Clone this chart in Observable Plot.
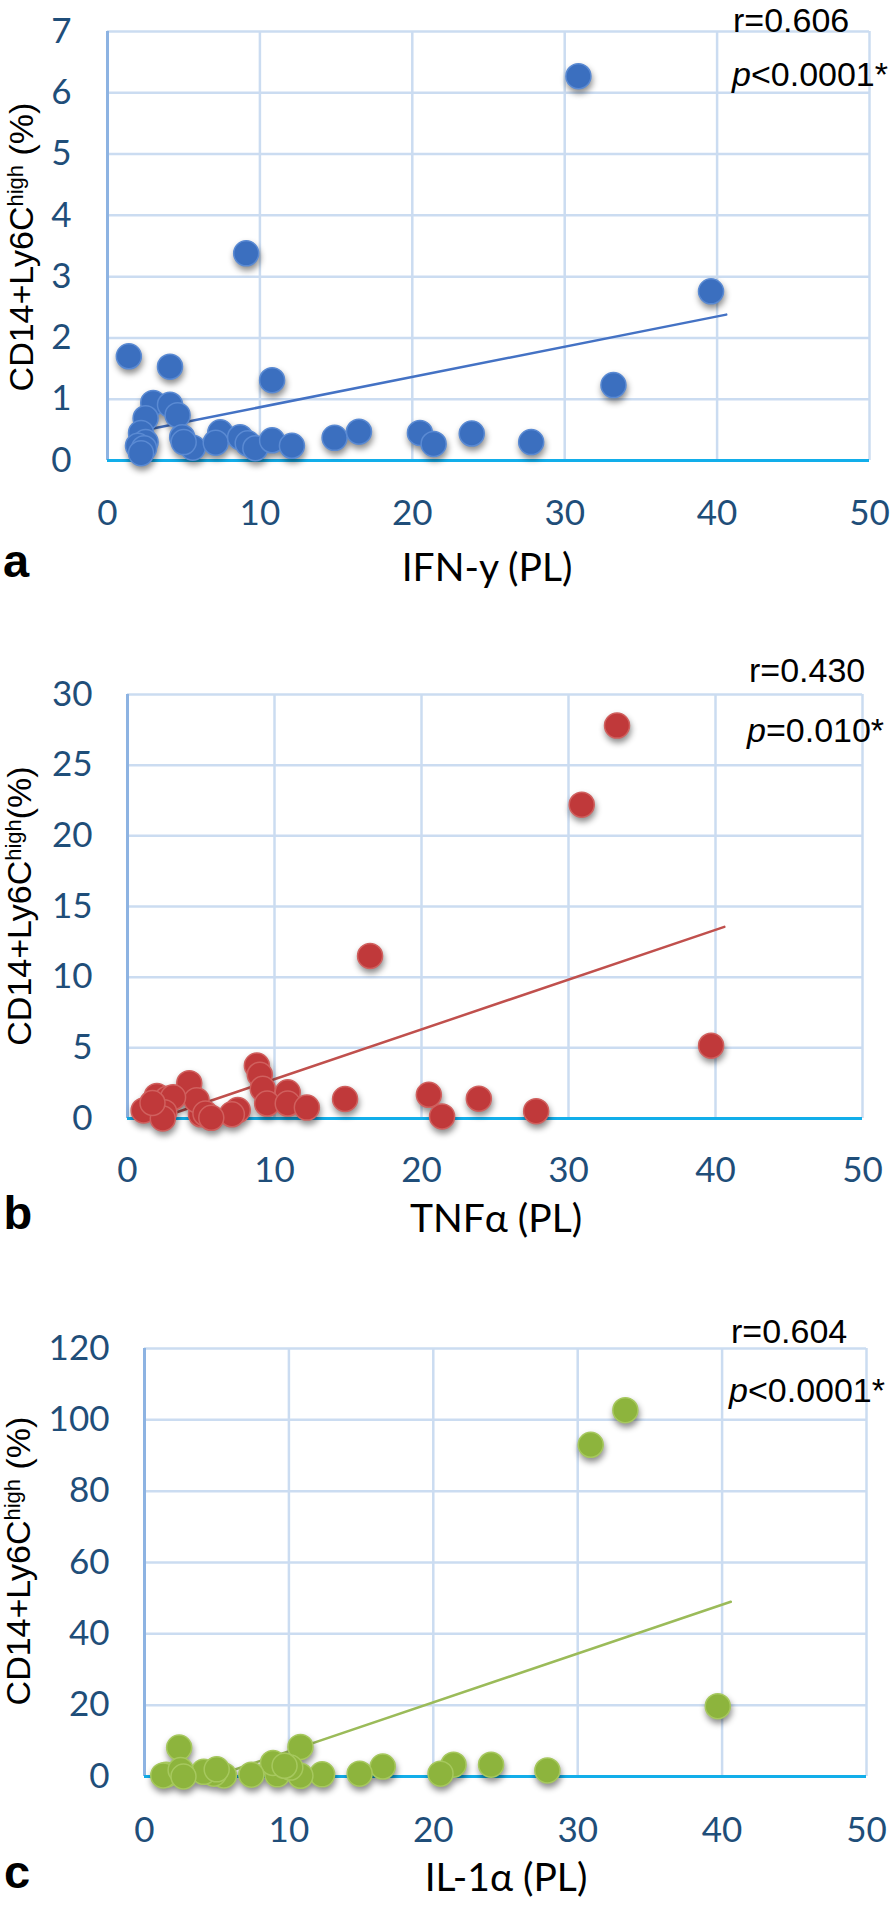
<!DOCTYPE html>
<html>
<head>
<meta charset="utf-8">
<script src="https://cdn.jsdelivr.net/npm/d3@7"></script>
<script src="https://cdn.jsdelivr.net/npm/@observablehq/plot@0.6"></script>
<style>
html, body { margin: 0; padding: 0; background: #fff; overflow: hidden; }
#root { position: relative; width: 894px; height: 1905px; overflow: hidden; background: #fff; }
#root > svg { position: absolute; left: 0; }
</style>
</head>
<body>
<div id="root"></div>
<script>
// ---------- data ----------
const xTicks = [0, 10, 20, 30, 40, 50];
const yTicksA = [0, 1, 2, 3, 4, 5, 6, 7];
const yTicksB = [0, 5, 10, 15, 20, 25, 30];
const yTicksC = [0, 20, 40, 60, 80, 100, 120];

const panelLetters = ["a", "b", "c"];
const xTitles = ["IFN-y (PL)", "TNFα (PL)", "IL-1α (PL)"];
const yTitleTails = [" (%)", "(%)", " (%)"];
const rTexts = ["r=0.606", "r=0.430", "r=0.604"];
const pTexts = ["<0.0001*", "=0.010*", "<0.0001*"];

// panel a: IFN-y vs CD14+Ly6Chigh
const ifnX = [30.9, 9.1, 39.6, 1.4, 4.1, 10.8, 33.2, 3.0, 4.1, 4.6, 2.5, 2.2, 2.5, 2.0, 2.4, 4.9, 5.6, 7.4, 7.1, 8.7, 9.2, 9.7, 10.8, 12.1, 14.9, 16.5, 20.5, 21.4, 23.9, 27.8, 2.2, 5.0];
const monoA = [6.27, 3.38, 2.76, 1.70, 1.53, 1.31, 1.23, 0.94, 0.91, 0.74, 0.69, 0.45, 0.30, 0.24, 0.20, 0.38, 0.21, 0.46, 0.29, 0.38, 0.28, 0.20, 0.33, 0.24, 0.37, 0.47, 0.45, 0.27, 0.44, 0.30, 0.12, 0.30];
const trendAX = [1.5, 40.6];
const trendAY = [0.45, 2.38];

// panel b: TNFa vs CD14+Ly6Chigh
const tnfX = [33.3, 30.9, 16.5, 39.7, 8.8, 9.0, 9.2, 4.2, 10.9, 9.5, 10.9, 14.8, 20.5, 23.9, 27.8, 21.4, 12.2, 7.5, 7.1, 5.0, 4.7, 5.3, 2.0, 2.7, 3.1, 1.1, 2.5, 2.4, 1.7, 5.7];
const monoB = [27.8, 22.2, 11.5, 5.15, 3.75, 3.1, 2.1, 2.5, 1.85, 1.06, 1.06, 1.38, 1.68, 1.4, 0.52, 0.15, 0.77, 0.6, 0.3, 0.3, 1.3, 0.35, 1.6, 1.4, 1.5, 0.57, 0.45, 0.0, 1.1, 0.05];
const trendBX = [2.1, 40.6];
const trendBY = [0.0, 13.56];

// panel c: IL-1a vs CD14+Ly6Chigh
const il1X = [33.3, 30.9, 39.7, 2.4, 10.8, 27.9, 24.0, 21.4, 20.5, 16.5, 14.9, 12.3, 10.8, 9.2, 8.9, 10.1, 7.4, 5.5, 4.8, 4.1, 2.6, 1.5, 1.3, 2.5, 2.7, 5.0, 9.7];
const monoC = [102.7, 93.0, 19.7, 8.1, 8.3, 1.7, 3.3, 3.3, 0.8, 2.8, 0.8, 0.6, 0.2, 0.6, 3.8, 2.5, 0.5, 0.3, 0.8, 1.3, 0.6, 0.5, 0.3, 1.8, 0.0, 2.0, 3.0];
const trendCX = [4.9, 40.6];
const trendCY = [0.1, 49.0];

// ---------- drawing ----------
const root = document.getElementById("root");

function panel(cfg) {
  const pts = cfg.xs.map((x, i) => ({x, y: cfg.ys[i]}));
  const trend = cfg.tx.map((x, i) => ({x, y: cfg.ty[i]}));
  const svg = Plot.plot({
    width: 894,
    height: cfg.height,
    marginTop: cfg.mt, marginBottom: cfg.mb, marginLeft: cfg.ml, marginRight: cfg.mr,
    style: {fontFamily: "Lato, 'Open Sans', sans-serif", fontSize: "35px", color: "#1f4e79", background: "transparent", overflow: "visible"},
    x: {domain: [0, 50], ticks: xTicks, tickSize: 0, tickPadding: cfg.padX, label: null, tickFormat: d => String(d)},
    y: {domain: cfg.yDomain, ticks: cfg.yTicks, tickSize: 0, tickPadding: cfg.padY, label: null, tickFormat: d => String(d)},
    marks: [
      Plot.ruleX(xTicks, {stroke: "#cbdcf1", strokeWidth: 2.5}),
      Plot.ruleY(cfg.yTicks, {stroke: "#cbdcf1", strokeWidth: 2.5}),
      Plot.ruleX([0], {stroke: "#8db3e2", strokeWidth: 3}),
      Plot.ruleY([0], {stroke: "#12aeea", strokeWidth: 3}),
      Plot.line(trend, {x: "x", y: "y", stroke: cfg.line, strokeWidth: 2.5}),
      Plot.dot(pts, {x: "x", y: "y", r: 12.5, fill: cfg.fill, stroke: cfg.rim, strokeWidth: 1.5})
    ]
  });
  svg.style.top = cfg.top + "px";
  d3.select(svg).selectAll('g[aria-label="dot"]').style("filter", "drop-shadow(1px 4px 3px rgba(0,0,0,0.45))");
  root.appendChild(svg);
}

panel({top: 0, height: 600, mt: 31, mb: 140, ml: 107, mr: 25, padX: 40, padY: 36,
  yDomain: [0, 7], yTicks: yTicksA, xs: ifnX, ys: monoA, tx: trendAX, ty: trendAY,
  fill: "#3b6fbf", rim: "#5a8ad3", line: "#4472c4"});
panel({top: 600, height: 680, mt: 94, mb: 162, ml: 127, mr: 32, padX: 39, padY: 35,
  yDomain: [0, 30], yTicks: yTicksB, xs: tnfX, ys: monoB, tx: trendBX, ty: trendBY,
  fill: "#c0393a", rim: "#d0605e", line: "#c0504d"});
panel({top: 1280, height: 625, mt: 68, mb: 129, ml: 144, mr: 28, padX: 41, padY: 35,
  yDomain: [0, 120], yTicks: yTicksC, xs: il1X, ys: monoC, tx: trendCX, ty: trendCY,
  fill: "#8db43d", rim: "#a6c85e", line: "#9bbb59"});

// ---------- annotation text ----------
const ov = d3.select(root).append("svg")
  .attr("width", 894).attr("height", 1905)
  .style("position", "absolute").style("top", "0px").style("left", "0px")
  .style("pointer-events", "none");

const arial = "'Liberation Sans', Arial, sans-serif";
const layout = [
  {yTitleX: 33, yTitleY: 247, letter: [3, 577], xTitle: [487, 581], r: [733, 32], p: [732, 86]},
  {yTitleX: 31, yTitleY: 906, letter: [3.5, 1229], xTitle: [496, 1232], r: [749, 682], p: [747, 742]},
  {yTitleX: 30, yTitleY: 1561, letter: [4, 1888], xTitle: [506, 1891], r: [731, 1343], p: [729, 1402]}
];

layout.forEach((L, i) => {
  // y title (rotated) with superscript
  const t = ov.append("text")
    .attr("transform", `translate(${L.yTitleX},${L.yTitleY}) rotate(-90)`)
    .attr("text-anchor", "middle")
    .attr("font-family", arial).attr("font-size", 34).attr("fill", "#000")
    .style("white-space", "pre");
  t.append("tspan").text("CD14+Ly6C");
  t.append("tspan").attr("font-size", 22).attr("dy", -10).text("high");
  t.append("tspan").attr("dy", 10).text(yTitleTails[i]);

  // panel letter
  ov.append("text").attr("x", L.letter[0]).attr("y", L.letter[1])
    .attr("font-family", arial).attr("font-weight", "bold").attr("font-size", 47).attr("fill", "#000")
    .text(panelLetters[i]);

  // x title
  ov.append("text").attr("x", L.xTitle[0]).attr("y", L.xTitle[1])
    .attr("text-anchor", "middle")
    .attr("font-family", "Lato, 'Open Sans', sans-serif").attr("font-size", 39).attr("fill", "#000")
    .text(xTitles[i]);

  // stats
  ov.append("text").attr("x", L.r[0]).attr("y", L.r[1])
    .attr("font-family", arial).attr("font-size", 34).attr("fill", "#000")
    .text(rTexts[i]);
  const p = ov.append("text").attr("x", L.p[0]).attr("y", L.p[1])
    .attr("font-family", arial).attr("font-size", 34).attr("fill", "#000");
  p.append("tspan").attr("font-style", "italic").text("p");
  p.append("tspan").text(pTexts[i]);
});
</script>
</body>
</html>
